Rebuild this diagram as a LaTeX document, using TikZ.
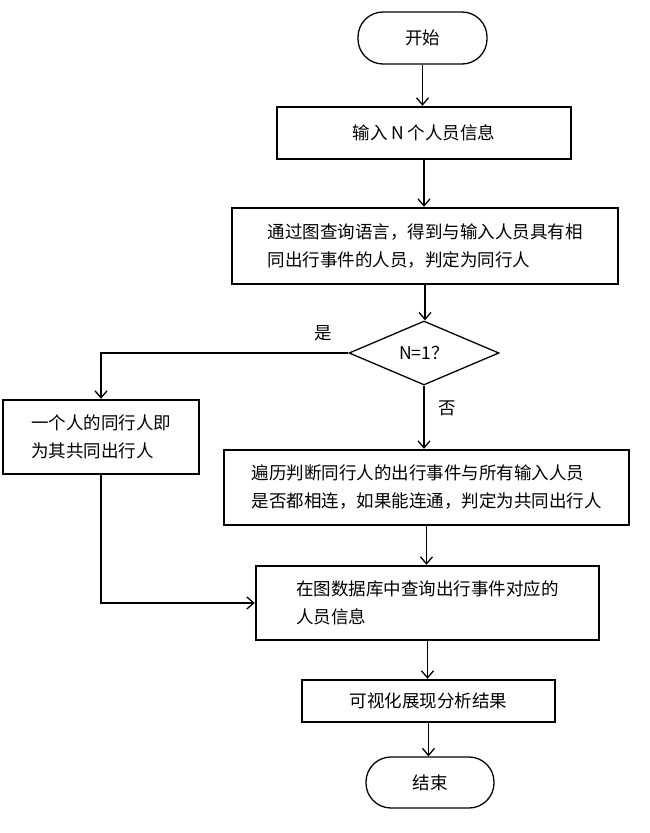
\documentclass[tikz,border=0pt]{standalone}
\usepackage{fontspec}
\setmainfont{Noto Sans CJK SC}
\usetikzlibrary{arrows.meta,shapes.geometric}

\begin{document}
\begin{tikzpicture}[x=1pt,y=-1pt,font=\fontsize{17.5}{28}\selectfont,
  >={Straight Barb[length=7pt,width=12pt]},
  term/.style={draw,line width=1.3pt,rounded corners=25pt,minimum width=129pt,minimum height=52pt,inner sep=0pt},
  proc/.style={draw,line width=2.4pt,align=left,inner sep=0pt},
  dec/.style={diamond,draw,line width=1.3pt,minimum width=150pt,minimum height=64pt,inner sep=0pt},
  conn/.style={line width=1.3pt,->}]
			\useasboundingbox (0,0) rectangle (649,833);
			\node[term] (start) at (422.5,38) {开始};
			\node[proc,minimum width=294pt,minimum height=52pt] (input) at (424,133) {输入 N 个人员信息};
			\node[proc,minimum width=386pt,minimum height=76pt] (query) at (425,246) {通过图查询语言，得到与输入人员具有相\\同出行事件的人员，判定为同行人};
			\node[dec] (check) at (424,353) {N=1？};
			\node[proc,minimum width=196pt,minimum height=74pt] (single) at (101,437) {一个人的同行人即\\为其共同出行人};
			\node[proc,minimum width=405pt,minimum height=75pt] (traverse) at (426.5,487.5) {遍历判断同行人的出行事件与所有输入人员\\是否都相连，如果能连通，判定为共同出行人};
			\node[proc,minimum width=343pt,minimum height=74pt] (lookup) at (427.5,603) {在图数据库中查询出行事件对应的\\人员信息};
			\node[proc,minimum width=253pt,minimum height=42pt] (show) at (428.5,701) {可视化展现分析结果};
			\node[term,minimum width=128pt,minimum height=51pt] (stop) at (430,782.5) {结束};
			% branch labels
			\node (yes) at (323,333) {是};
			\node (no) at (447,408) {否};
			\draw[conn] (start.south) -- (start.south |- input.north);
			\draw[conn] (input.south) -- (input.south |- query.north);
			\draw[conn] (query.south) -- (query.south |- check.north);
			\draw[conn] (check.west) -| (single.north);
			\draw[conn] (check.south) -- (check.south |- traverse.north);
			\draw[conn] (single.south) |- (lookup.west);
			\draw[conn] (traverse.south) -- (traverse.south |- lookup.north);
			\draw[conn] (lookup.south) -- (lookup.south |- show.north);
			\draw[conn] (show.south) -- (show.south |- stop.north);
		\end{tikzpicture}
\end{document}
